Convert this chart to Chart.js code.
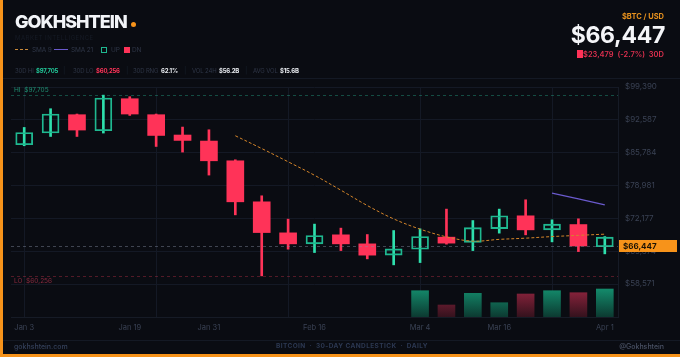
<!DOCTYPE html>
<html>
<head>
<meta charset="utf-8">
<script src="https://cdn.jsdelivr.net/npm/chart.js@4.4.1/dist/chart.umd.min.js"></script>
<style>
  html, body { margin: 0; padding: 0; }
  body { width: 680px; height: 357px; background: #0a0c12; position: relative; overflow: hidden; font-family: Inter, "Noto Sans", sans-serif; }
  #c { position: absolute; left: 0; top: 0; }
  .t { position: absolute; white-space: nowrap; line-height: 1; }
  .dim { color: #2f3647; letter-spacing: -0.15px; }
  .sv { font-size: 6px; font-weight: 700; letter-spacing: -0.2px; }
</style>
</head>
<body>
<canvas id="c" width="680" height="357"></canvas>

<div style="position:absolute;left:0;top:0;width:3px;height:357px;background:#f7931a"></div>
<div style="position:absolute;left:0;top:354px;width:680px;height:3px;background:#f7931a"></div>
<div style="position:absolute;left:3px;top:78px;width:677px;height:1px;background:#141924"></div>
<div style="position:absolute;left:3px;top:340px;width:677px;height:1px;background:#141924"></div>

<div class="t" style="left:15px;top:13px;font-size:18px;font-weight:800;color:#f2f4f8;letter-spacing:-1px">GOKHSHTEIN</div>
<div style="position:absolute;left:131px;top:22px;width:5px;height:5px;border-radius:50%;background:#f7931a"></div>
<div class="t" style="left:15px;top:35px;font-size:6px;letter-spacing:0.5px;color:#161b26">MARKET INTELLIGENCE</div>

<div style="position:absolute;left:15px;top:49px;width:13px;border-top:1px dashed #c98a3a"></div>
<div class="t dim" style="left:32px;top:47px;font-size:6.5px">SMA 9</div>
<div style="position:absolute;left:54px;top:49px;width:14px;height:1px;background:#6a5acd"></div>
<div class="t dim" style="left:71px;top:47px;font-size:6.5px">SMA 21</div>
<div style="position:absolute;left:101px;top:47px;width:4px;height:4px;border:1px solid #1fb890"></div>
<div class="t dim" style="left:111px;top:47px;font-size:6.5px">UP</div>
<div style="position:absolute;left:124px;top:47px;width:6px;height:6px;background:#ff3358"></div>
<div class="t dim" style="left:132px;top:47px;font-size:6.5px">DN</div>

<div class="t dim" style="left:15px;top:68px;font-size:6px">30D HI</div>
<div class="t sv" style="left:36px;top:68px;color:#22c99a">$97,705</div>
<div class="t" style="left:63px;top:67px;font-size:7px;color:#1a202c">|</div>
<div class="t dim" style="left:73px;top:68px;font-size:6px">30D LO</div>
<div class="t sv" style="left:96px;top:68px;color:#ff3358">$60,256</div>
<div class="t" style="left:126px;top:67px;font-size:7px;color:#1a202c">|</div>
<div class="t dim" style="left:133px;top:68px;font-size:6px">30D RNG</div>
<div class="t sv" style="left:161px;top:68px;color:#e8ebf0">62.1%</div>
<div class="t" style="left:184px;top:67px;font-size:7px;color:#1a202c">|</div>
<div class="t dim" style="left:192px;top:68px;font-size:6px">VOL 24H</div>
<div class="t sv" style="left:219px;top:68px;color:#e8ebf0">$56.2B</div>
<div class="t" style="left:245px;top:67px;font-size:7px;color:#1a202c">|</div>
<div class="t dim" style="left:253px;top:68px;font-size:6px">AVG VOL</div>
<div class="t sv" style="left:280px;top:68px;color:#e8ebf0">$15.6B</div>

<div class="t" style="right:16px;top:13px;font-size:7.5px;font-weight:700;color:#e8921e">$BTC / USD</div>
<div class="t" style="right:15px;top:24px;font-size:23px;font-weight:700;color:#f4f5f8;letter-spacing:-0.3px">$66,447</div>
<div style="position:absolute;left:577px;top:50px;width:6px;height:8px;background:#ff3358"></div>
<div class="t" style="right:16px;top:51px;font-size:7.5px;font-weight:600;color:#e0304f">$23,479 &nbsp;(-2.7%) &nbsp;30D</div>

<div class="t" style="left:14px;top:343px;font-size:7px;font-weight:500;color:#34405a">gokhshtein.com</div>
<div class="t" style="left:276px;top:343px;font-size:6.5px;font-weight:700;letter-spacing:0.4px;color:#2c3852">BITCOIN &nbsp;·&nbsp; 30-DAY CANDLESTICK &nbsp;·&nbsp; DAILY</div>
<div class="t" style="right:16px;top:343px;font-size:7px;font-weight:500;color:#4a5265">@Gokhshtein</div>

<script>
var dates = ['Jan 3', 'Jan 7', 'Jan 11', 'Jan 15', 'Jan 19', 'Jan 23', 'Jan 27', 'Jan 31', 'Feb 4', 'Feb 8', 'Feb 12', 'Feb 16',
             'Feb 20', 'Feb 24', 'Feb 28', 'Mar 4', 'Mar 8', 'Mar 12', 'Mar 16', 'Mar 20', 'Mar 24', 'Mar 28', 'Apr 1'];
var shownDates = ['Jan 3', 'Jan 19', 'Jan 31', 'Feb 16', 'Mar 4', 'Mar 16', 'Apr 1'];

var opens  = [87420, 89850, 93650, 90330, 96960, 93650, 89440, 88190, 84100, 75600, 69170, 66890,
              68760, 66890, 64550, 65790, 68280, 67200, 70060, 72700, 69790, 70890, 66300];
var closes = [89970, 93790, 90470, 97110, 93790, 89350, 88320, 84100, 75600, 69230, 66890, 68610,
              66890, 64550, 65850, 68400, 67040, 70250, 72700, 69790, 70980, 66447, 68280];
var highs  = [91010, 94890, 93790, 97705, 97380, 93790, 91090, 90530, 84310, 76850, 72010, 70980,
              70150, 68820, 69650, 70000, 74090, 71720, 74090, 76020, 71870, 72080, 68400];
var lows   = [87220, 89140, 89140, 89850, 93500, 87070, 85910, 81140, 72900, 60256, 65790, 65090,
              65500, 63780, 62540, 63010, 66830, 65500, 69110, 68760, 67300, 65290, 64820];

var sma9  = [null, null, null, null, null, null, null, null, 89290, 86640, 83900, 81100,
             78010, 74830, 72060, 69940, 68340, 67450, 67820, 68070, 68400, 68650, 68900];
var sma21 = [null, null, null, null, null, null, null, null, null, null, null, null,
             null, null, null, null, null, null, null, null, 77410, 76220, 74980];
// volume in $B
var volume = [null, null, null, null, null, null, null, null, null, null, null, null,
              null, null, null, 52.8, 24.1, 47.6, 28.7, 46.2, 52.8, 48.8, 56.2];

var yTicks = [58571, 65374, 72177, 78981, 85784, 92587, 99390];
var hi30 = 97705, lo30 = 60256, lastPrice = 66447;

var UP = '#1fb890', UP_WICK = '#2ee0ad', DN = '#ff3358';

function isUp(i) { return closes[i] >= opens[i]; }

var bodies = dates.map(function(d, i) { return [opens[i], closes[i]]; });
var wicks = dates.map(function(d, i) { return [lows[i], highs[i]]; });

function fmt(v) { return '$' + Math.round(v).toLocaleString('en-US'); }

function volGradient(ctx, up) {
    var chart = ctx.chart;
    if (!chart.chartArea) return up ? '#13896a' : '#8c2238';
    var g = chart.ctx.createLinearGradient(0, chart.chartArea.bottom - 30, 0, chart.chartArea.bottom);
    if (up) { g.addColorStop(0, '#14906f'); g.addColorStop(1, '#0c3a31'); }
    else { g.addColorStop(0, '#962540'); g.addColorStop(1, '#34121d'); }
    return g;
}

var refLines = {
    id: 'refLines',
    afterDatasetsDraw: function(chart) {
        var c = chart.ctx, a = chart.chartArea, y = chart.scales.y;
        c.save();
        c.lineWidth = 1;
        c.setLineDash([3, 3]);
        [[hi30, 'rgba(40,200,160,0.35)'], [lo30, 'rgba(255,60,90,0.3)'], [lastPrice, 'rgba(130,140,160,0.45)']].forEach(function(l) {
            var py = Math.round(y.getPixelForValue(l[0])) + 0.5;
            c.strokeStyle = l[1];
            c.beginPath(); c.moveTo(a.left, py); c.lineTo(a.right, py); c.stroke();
        });
        c.setLineDash([]);
        c.font = '6.5px Inter';
        c.textBaseline = 'middle';
        c.fillStyle = '#1f8f72';
        c.fillText('HI  ' + fmt(hi30), 14, y.getPixelForValue(hi30) - 5);
        c.fillStyle = '#8a2a3e';
        c.fillText('LO  ' + fmt(lo30), 14, y.getPixelForValue(lo30) + 5);
        // last price tag
        var ty = y.getPixelForValue(lastPrice);
        c.fillStyle = '#f7931a';
        c.fillRect(a.right + 1, ty - 6, 58, 12);
        c.fillStyle = '#1a1204';
        c.font = 'bold 8px Inter';
        c.fillText(fmt(lastPrice), a.right + 5, ty + 0.5);
        c.restore();
    }
};

var chart = new Chart(document.getElementById('c').getContext('2d'), {
    type: 'bar',
    data: {
        labels: dates,
        datasets: [
            {
                type: 'line', label: 'SMA 9', data: sma9, yAxisID: 'y', order: 0,
                borderColor: '#d4852a', borderWidth: 1, borderDash: [3, 2], pointRadius: 0, tension: 0.35, fill: false
            },
            {
                type: 'line', label: 'SMA 21', data: sma21, yAxisID: 'y', order: 0,
                borderColor: '#6a5acd', borderWidth: 1.3, pointRadius: 0, fill: false
            },
            {
                label: 'Body', data: bodies, yAxisID: 'y', order: 1, grouped: false, barThickness: 17,
                backgroundColor: function(ctx) { return isUp(ctx.dataIndex) ? 'rgba(0,0,0,0)' : DN; },
                borderColor: function(ctx) { return isUp(ctx.dataIndex) ? UP : DN; },
                borderWidth: function(ctx) { return isUp(ctx.dataIndex) ? 1.2 : 0; },
                borderSkipped: false
            },
            {
                label: 'Wick', data: wicks, yAxisID: 'y', order: 2, grouped: false, barThickness: 2,
                backgroundColor: function(ctx) { return isUp(ctx.dataIndex) ? UP_WICK : DN; },
                borderWidth: 0
            },
            {
                label: 'Volume', data: volume, yAxisID: 'yv', order: 3, grouped: false, barThickness: 17,
                backgroundColor: function(ctx) { return volGradient(ctx, isUp(ctx.dataIndex)); },
                borderWidth: 0
            }
        ]
    },
    options: {
        responsive: false,
        animation: false,
        devicePixelRatio: 1,
        layout: { padding: { left: 11, top: 87, right: 0, bottom: 17 } },
        plugins: { legend: { display: false }, tooltip: { enabled: false } },
        scales: {
            x: {
                offset: true,
                grid: {
                    offset: false, drawTicks: false,
                    color: function(ctx) { return ctx.index % 5 === 0 ? '#141925' : 'rgba(0,0,0,0)'; }
                },
                border: { color: '#161b26' },
                ticks: {
                    autoSkip: false, maxRotation: 0, padding: 6,
                    color: '#3a4254', font: { family: 'Inter', size: 7.5 },
                    callback: function(v, i) { return shownDates.indexOf(dates[i]) >= 0 ? dates[i] : ''; }
                },
                afterFit: function(s) { s.height = 23; }
            },
            y: {
                position: 'right',
                min: 51735, max: 99390,
                afterBuildTicks: function(s) { s.ticks = yTicks.map(function(v) { return { value: v }; }); },
                grid: { color: '#141925', drawTicks: false },
                border: { color: '#161b26' },
                ticks: {
                    padding: 7, color: '#3a4254', font: { family: 'Inter', size: 8 },
                    callback: function(v) { return fmt(v); }
                },
                afterFit: function(s) { s.width = 62; }
            },
            yv: { display: false, min: 0, max: 462 }
        }
    },
    plugins: [refLines]
});
</script>
</body>
</html>
